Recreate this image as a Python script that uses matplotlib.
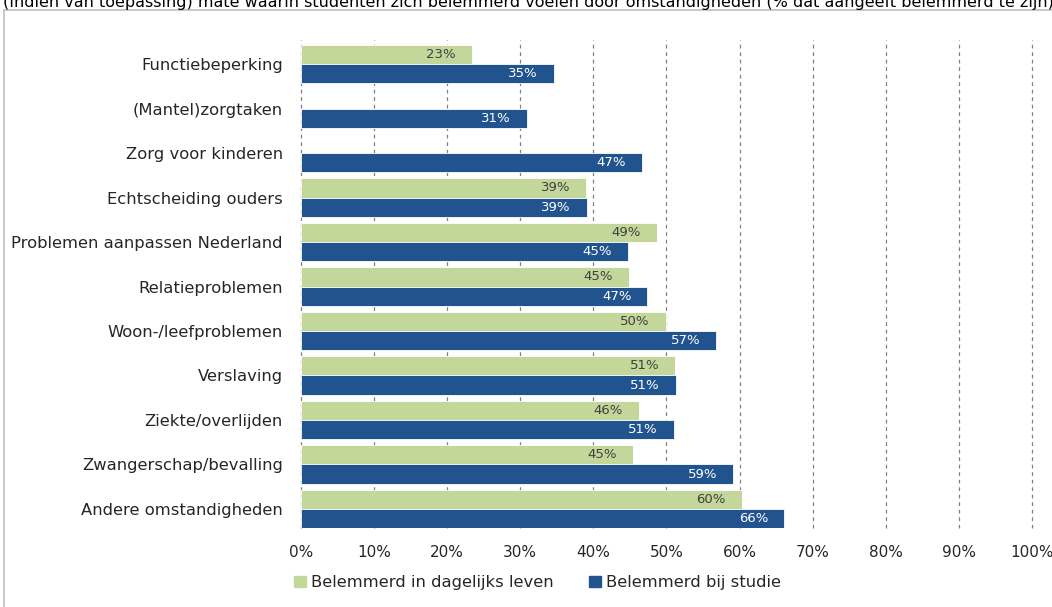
import matplotlib
matplotlib.use("Agg")
import matplotlib.pyplot as plt
import numpy as np
from matplotlib.patches import Rectangle
from matplotlib.ticker import FuncFormatter

# --- data ------------------------------------------------------------------
categories = ["Functiebeperking", "(Mantel)zorgtaken", "Zorg voor kinderen",
              "Echtscheiding ouders", "Problemen aanpassen Nederland",
              "Relatieproblemen", "Woon-/leefproblemen", "Verslaving",
              "Ziekte/overlijden", "Zwangerschap/bevalling",
              "Andere omstandigheden"]
dagelijks = [23.4, None, None, 39.0, 48.7, 44.9, 49.9, 51.2, 46.2, 45.4, 60.3]
studie = [34.6, 30.9, 46.6, 39.1, 44.7, 47.4, 56.8, 51.3, 51.0, 59.1, 66.1]
series_names = ["Belemmerd in dagelijks leven", "Belemmerd bij studie"]

GREEN = "#c4d79b"
BLUE = "#21548f"

plt.rcParams["font.family"] = ["DejaVu Sans"]

fig = plt.figure(figsize=(10.52, 6.07), dpi=100)
ax = fig.add_axes([0.2861, 0.130, 0.6949, 0.804])

# outer chart border (clipped by figure edge like the source)
fig.patches.append(Rectangle((4 / 1052, -0.1), 1.2, 1.1 - 10 / 607,
                             transform=fig.transFigure, fill=False,
                             edgecolor="#bfbfbf", lw=1.2))
# title line, cut off at the top edge in the source
fig.text(0.003, 1 - 7 / 607, "(Indien van toepassing) mate waarin studenten zich belemmerd "
         "voelen door omstandigheden (% dat aangeeft belemmerd te zijn)",
         ha="left", va="baseline", fontsize=11.5, color="#000000")

y = np.arange(len(categories))
h = 0.43
for i, (g, b) in enumerate(zip(dagelijks, studie)):
    if g is not None:
        ax.barh(y[i] - h / 2, g, height=h, color=GREEN, edgecolor="white", lw=0.6)
        ax.annotate(f"{g:.0f}%", (g, y[i] - h / 2), xytext=(-16, 0),
                    textcoords="offset pixels", ha="right", va="center",
                    fontsize=9.5, color="#404040")
    ax.barh(y[i] + h / 2, b, height=h, color=BLUE, edgecolor="white", lw=0.6)
    ax.annotate(f"{b:.0f}%", (b, y[i] + h / 2), xytext=(-16, 0),
                textcoords="offset pixels", ha="right", va="center",
                fontsize=9.5, color="white")

ax.set_xlim(0, 100)
ax.set_ylim(len(categories) - 0.57, -0.54)
ax.set_xticks(np.arange(0, 101, 10))
ax.xaxis.set_major_formatter(FuncFormatter(lambda v, _: f"{v:.0f}%"))
ax.set_yticks(y)
ax.set_yticklabels(categories)
ax.tick_params(axis="y", length=0, pad=13, labelsize=11.8, colors="#262626")
ax.tick_params(axis="x", length=0, pad=12, labelsize=11, colors="#262626")
ax.grid(axis="x", linestyle=(0, (3, 3)), color="#808080", lw=0.9)
for gl in ax.get_xgridlines():
    gl.set_clip_on(False)
ax.set_axisbelow(True)
for s in ax.spines.values():
    s.set_visible(False)

handles = [Rectangle((0, 0), 1, 1, color=GREEN), Rectangle((0, 0), 1, 1, color=BLUE)]
fig.legend(handles, series_names, loc="center", bbox_to_anchor=(0.511, 0.04),
           ncol=2, frameon=False, fontsize=11.8, handlelength=0.7, handleheight=0.7,
           handletextpad=0.3, columnspacing=2.2, labelcolor="#262626")

fig.savefig("out.png", dpi=100)
